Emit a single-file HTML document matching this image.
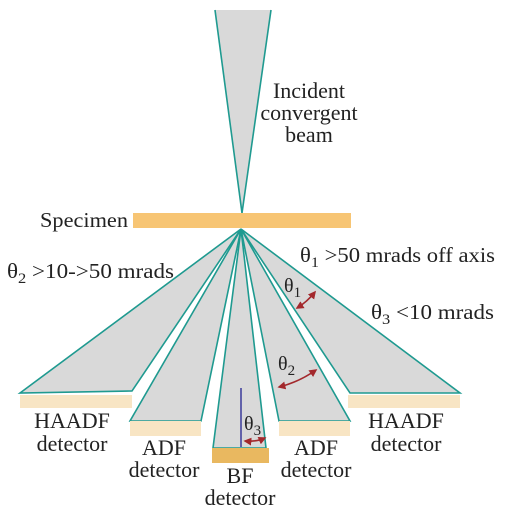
<!DOCTYPE html>
<html><head><meta charset="utf-8"><style>
html,body{margin:0;padding:0;background:#fff;}
svg{display:block;}
text{font-family:"Liberation Serif",serif;fill:#222;}
</style></head><body>
<svg width="506" height="518" viewBox="0 0 506 518">
<defs>
<marker id="ah" viewBox="0 0 10 10" refX="8" refY="5" markerWidth="5" markerHeight="5" orient="auto-start-reverse"><path d="M0,0 L10,5 L0,10 z" fill="#a3282c"/></marker>
</defs>
<g>
<polygon points="215,10 271,10 242,213" fill="#d9d9d9"/>
<line x1="215" y1="10" x2="242" y2="213" stroke="#1f9a90" stroke-width="1.6"/>
<line x1="271" y1="10" x2="242" y2="213" stroke="#1f9a90" stroke-width="1.6"/>
</g>
<text font-size="22" text-anchor="middle"><tspan x="309" y="98">Incident</tspan><tspan x="309" y="120">convergent</tspan><tspan x="309" y="142">beam</tspan></text>
<rect x="133" y="213" width="218" height="15" fill="#f7c574"/>
<text x="40" y="227" font-size="21" textLength="88" lengthAdjust="spacingAndGlyphs">Specimen</text>
<g stroke="#1f9a90" stroke-width="1.6" fill="#d9d9d9">
<polygon points="241,229 20,393 132,391"/>
<polygon points="241,229 130,421 201,421"/>
<polygon points="241,229 213,448 266,448"/>
<polygon points="241,229 279,421 350,421"/>
<polygon points="241,229 350,393 460,393"/>
</g>
<rect x="20" y="395" width="112" height="13" fill="#f8e5c4"/>
<rect x="130" y="421" width="71" height="15" fill="#f8e5c4"/>
<rect x="212" y="448" width="57" height="15" fill="#e9b860"/>
<rect x="279" y="421" width="71" height="15" fill="#f8e5c4"/>
<rect x="348" y="395" width="112" height="13" fill="#f8e5c4"/>
<line x1="241" y1="388" x2="241" y2="447" stroke="#3a3a9a" stroke-width="1.5"/>
<g stroke="#a3282c" stroke-width="1.6" fill="none">
<path d="M297,308 Q307,302 315,292" marker-start="url(#ah)" marker-end="url(#ah)"/>
<path d="M279,387 Q299,382 316,370" marker-start="url(#ah)" marker-end="url(#ah)"/>
<path d="M245,441 Q256,442 265,438" marker-start="url(#ah)" marker-end="url(#ah)"/>
</g>
<text x="284" y="292" font-size="20">θ<tspan font-size="15" dy="5">1</tspan></text>
<text x="278" y="370" font-size="20">θ<tspan font-size="15" dy="5">2</tspan></text>
<text x="244" y="430" font-size="20">θ<tspan font-size="15" dy="5">3</tspan></text>
<text x="300" y="262" font-size="21" textLength="195" lengthAdjust="spacingAndGlyphs">θ<tspan font-size="15" dy="5">1</tspan><tspan dy="-5"> &gt;50 mrads off axis</tspan></text>
<text x="7" y="278" font-size="21" textLength="167" lengthAdjust="spacingAndGlyphs">θ<tspan font-size="15" dy="5">2</tspan><tspan dy="-5"> &gt;10-&gt;50 mrads</tspan></text>
<text x="371" y="319" font-size="21" textLength="123" lengthAdjust="spacingAndGlyphs">θ<tspan font-size="15" dy="5">3</tspan><tspan dy="-5"> &lt;10 mrads</tspan></text>
<text font-size="22" text-anchor="middle"><tspan x="72" y="428">HAADF</tspan><tspan x="72" y="451">detector</tspan></text>
<text font-size="22" text-anchor="middle"><tspan x="164" y="455">ADF</tspan><tspan x="164" y="477">detector</tspan></text>
<text font-size="22" text-anchor="middle"><tspan x="240" y="483">BF</tspan><tspan x="240" y="505">detector</tspan></text>
<text font-size="22" text-anchor="middle"><tspan x="316" y="455">ADF</tspan><tspan x="316" y="477">detector</tspan></text>
<text font-size="22" text-anchor="middle"><tspan x="406" y="428">HAADF</tspan><tspan x="406" y="451">detector</tspan></text>
</svg>
</body></html>
